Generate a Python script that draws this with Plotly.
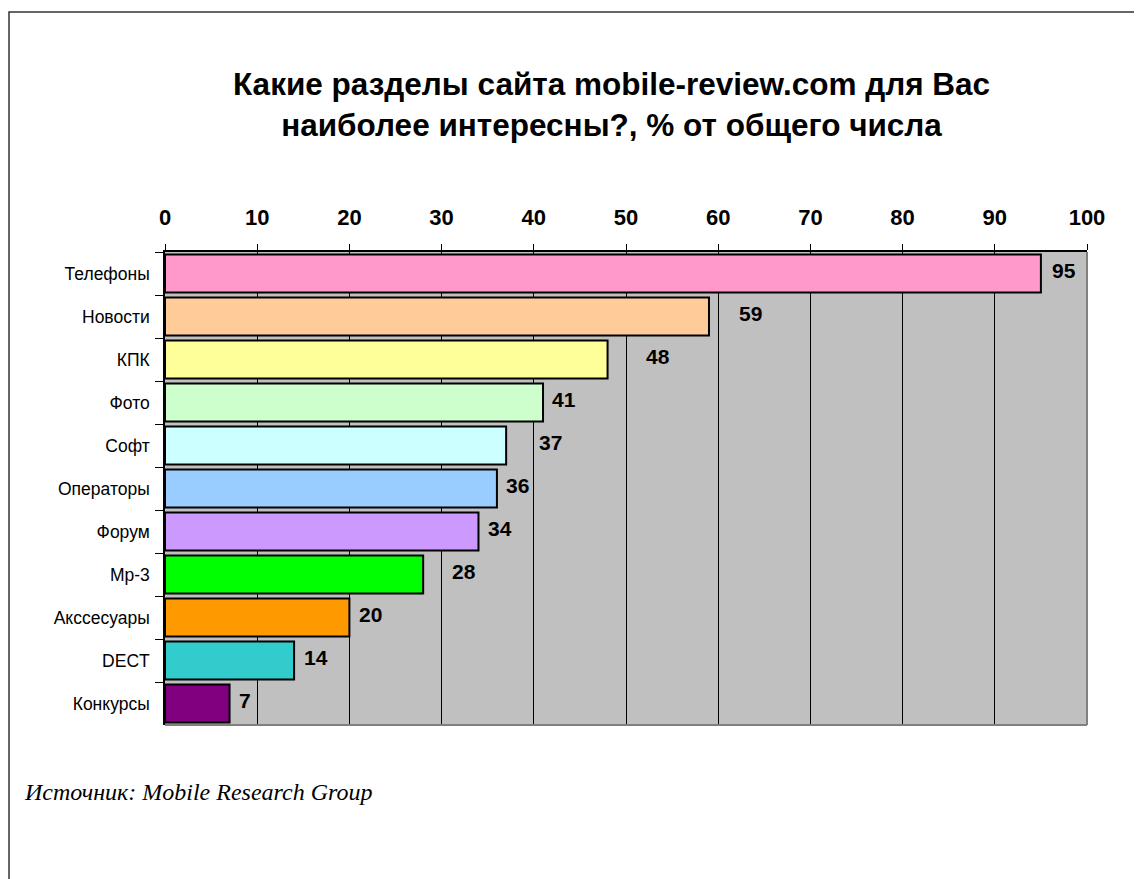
import plotly.graph_objects as go

categories = ["Телефоны", "Новости", "КПК", "Фото", "Софт", "Операторы",
              "Форум", "Мр-3", "Акссесуары", "DECT", "Конкурсы"]
values = [95, 59, 48, 41, 37, 36, 34, 28, 20, 14, 7]
colors = ["#FF99CC", "#FFCC99", "#FFFF99", "#CCFFCC", "#CCFFFF", "#99CCFF",
          "#CC99FF", "#00FF00", "#FF9900", "#33CCCC", "#800080"]
tick_vals = [0, 10, 20, 30, 40, 50, 60, 70, 80, 90, 100]
title_text = "Какие разделы сайта mobile-review.com для Вас<br>наиболее интересны?, % от общего числа"
source_text = "Источник: Mobile Research Group"

# style: pixel gap between each bar end and its value label
label_gap = [10, 29, 37, 8, 32, 8, 9, 28, 9, 9, 8]

W, H = 1142, 879
OFF = 8  # page offset of the figure in the browser
L, R, T, B = 165 - OFF, 63, 252 - OFF, 162
pw, ph = W - L - R, H - T - B

def px_x(p):
    return (p - OFF - L) / pw

def px_y(p):
    return (H - B - (p - OFF)) / ph

fig = go.Figure()
fig.add_trace(go.Bar(
    y=categories, x=values, orientation="h",
    marker=dict(color=colors, line=dict(color="black", width=2)),
    width=0.88, hoverinfo="x+y",
))

annotations = []
for c, v, g in zip(categories, values, label_gap):
    annotations.append(dict(
        x=v, y=c, xref="x", yref="y", text=str(v), showarrow=False,
        xanchor="left", yanchor="middle", xshift=g - 1, yshift=3,
        font=dict(family="Liberation Sans, Arial", size=21, color="black", weight="bold"),
    ))
annotations.append(dict(
    x=px_x(611), y=px_y(104), xref="paper", yref="paper", text=title_text,
    showarrow=False, xanchor="center", yanchor="middle",
    font=dict(family="Liberation Sans, Arial", size=31.5, color="black", weight="bold"),
))
annotations.append(dict(
    x=px_x(22), y=px_y(792), xref="paper", yref="paper", text=source_text,
    showarrow=False, xanchor="left", yanchor="middle",
    font=dict(family="Liberation Serif, Times New Roman", size=24, color="black", style="italic"),
))

shapes = [
    dict(type="rect", xref="paper", yref="paper", x0=px_x(9), x1=px_x(1300),
         y0=px_y(1000), y1=px_y(12), line=dict(color="#333333", width=1.5),
         fillcolor="rgba(0,0,0,0)", layer="below"),
    dict(type="line", xref="paper", yref="paper", x0=0, x1=1, y0=0, y1=0,
         line=dict(color="#808080", width=2)),
    dict(type="line", xref="paper", yref="paper", x0=1, x1=1, y0=0, y1=1,
         line=dict(color="#808080", width=2)),
]

fig.update_layout(
    width=W, height=H,
    margin=dict(l=L, r=R, t=T, b=B, pad=0),
    paper_bgcolor="white", plot_bgcolor="#C0C0C0",
    showlegend=False,
    annotations=annotations, shapes=shapes,
    bargap=0.12,
    xaxis=dict(
        side="top", range=[0, 100], tickvals=tick_vals,
        showgrid=True, gridcolor="black", gridwidth=1,
        showline=True, linecolor="black", linewidth=1.5,
        ticks="outside", ticklen=6, tickcolor="black",
        tickfont=dict(family="Liberation Sans, Arial", size=22, color="black", weight="bold"),
        ticklabelstandoff=10,
        zeroline=False, fixedrange=True,
    ),
    yaxis=dict(
        autorange="reversed",
        showline=True, linecolor="black", linewidth=1.5,
        ticks="outside", ticklen=8, tickcolor="black", tickson="boundaries",
        tickfont=dict(family="Liberation Sans, Arial", size=17.5, color="black"),
        ticklabelstandoff=10, showgrid=False, fixedrange=True,
    ),
)

fig.write_html("out.html")
